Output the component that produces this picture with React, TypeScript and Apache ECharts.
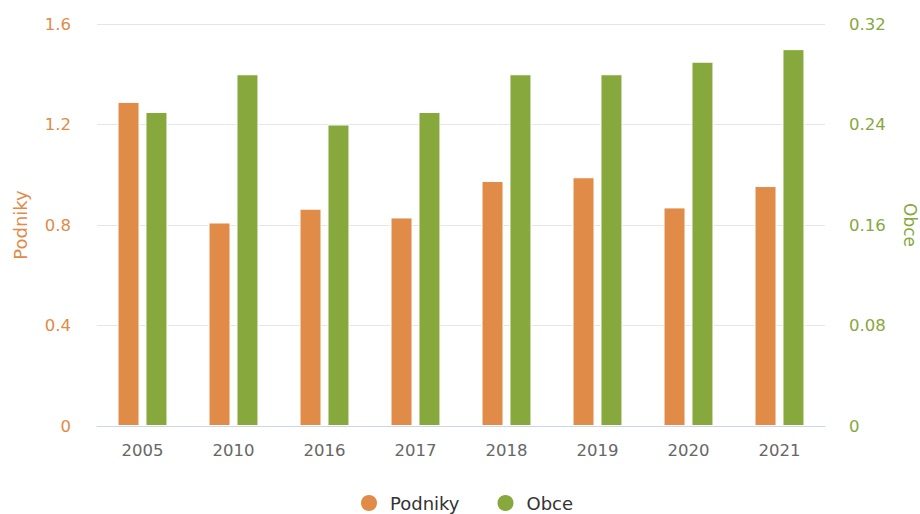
import React, { useEffect, useRef } from "react";
import * as echarts from "echarts";

const categories = ["2005", "2010", "2016", "2017", "2018", "2019", "2020", "2021"];
const podniky = [1.29, 0.81, 0.865, 0.83, 0.975, 0.99, 0.87, 0.955];
const obce = [0.25, 0.28, 0.24, 0.25, 0.28, 0.28, 0.29, 0.3];
const leftTicks = { min: 0, max: 1.6, interval: 0.4 };
const rightTicks = { min: 0, max: 0.32, interval: 0.08 };

const ORANGE = "#e08b47";
const GREEN = "#87a83c";
const FONT = "DejaVu Sans";

export default function App() {
  const ref = useRef<HTMLDivElement>(null);
  useEffect(() => {
    if (!ref.current) return;
    const chart = echarts.init(ref.current, undefined, { renderer: "svg" });
    chart.setOption({
      animation: false,
      textStyle: { fontFamily: FONT },
      grid: { left: 97, right: 95, top: 24, bottom: 88, containLabel: false, outerBoundsMode: "none" },
      legend: {
        top: 488,
        left: 354,
        icon: "circle",
        itemWidth: 18,
        itemHeight: 18,
        itemGap: 36,
        textStyle: { fontSize: 18, lineHeight: 18, color: "#333", fontFamily: FONT, padding: [0, 0, 0, 7] },
        data: ["Podniky", "Obce"],
      },
      xAxis: {
        type: "category",
        data: categories,
        axisLine: { lineStyle: { color: "#ccd6eb", width: 1 } },
        axisTick: { show: false },
        axisLabel: { color: "#666", fontSize: 16.5, margin: 16, fontFamily: FONT },
      },
      yAxis: [
        {
          type: "value",
          ...leftTicks,
          name: "Podniky",
          nameLocation: "middle",
          nameGap: 68,
          nameTextStyle: { color: ORANGE, fontSize: 18, fontFamily: FONT },
          axisLabel: { color: ORANGE, fontSize: 16.5, margin: 26, fontFamily: FONT },
          splitLine: { lineStyle: { color: "#e6e6e6", width: 1 } },
          axisLine: { show: false },
          axisTick: { show: false },
        },
        {
          type: "value",
          ...rightTicks,
          name: "Obce",
          nameLocation: "middle",
          nameGap: 76,
          nameRotate: -90,
          nameTextStyle: { color: GREEN, fontSize: 17, fontFamily: FONT },
          axisLabel: { color: GREEN, fontSize: 16.5, margin: 24, fontFamily: FONT },
          splitLine: { show: false },
          axisLine: { show: false },
          axisTick: { show: false },
        },
      ],
      series: [
        {
          name: "Podniky",
          type: "bar",
          yAxisIndex: 0,
          data: podniky,
          barWidth: 22,
          barGap: "27%",
          itemStyle: { color: ORANGE, borderColor: "#fff", borderWidth: 1 },
        },
        {
          name: "Obce",
          type: "bar",
          yAxisIndex: 1,
          data: obce,
          barWidth: 22,
          barGap: "27%",
          itemStyle: { color: GREEN, borderColor: "#fff", borderWidth: 1 },
        },
      ],
    });
    return () => chart.dispose();
  }, []);
  return <div ref={ref} style={{ width: 920, height: 514, position: "absolute", left: 0, top: 0 }} />;
}
